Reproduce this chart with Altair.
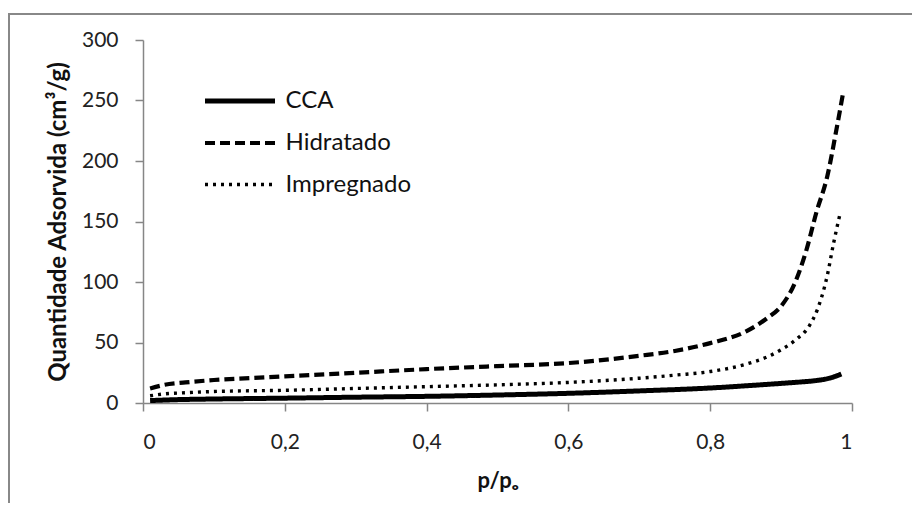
import altair as alt
import pandas as pd

# ---- data ----
series_names = ["CCA", "Hidratado", "Impregnado"]

cca_x = [0.01, 0.05, 0.1, 0.2, 0.3, 0.4, 0.5, 0.6, 0.7, 0.8, 0.85, 0.9, 0.93, 0.95, 0.97, 0.985]
cca_y = [2, 2.8, 3.3, 4, 4.8, 5.5, 6.6, 8, 10, 12.4, 14.2, 16.2, 17.5, 18.6, 20.8, 24]

hid_x = [0.01, 0.03, 0.06, 0.1, 0.15, 0.2, 0.3, 0.4, 0.5, 0.6, 0.7, 0.75, 0.8, 0.85, 0.88,
         0.9, 0.92, 0.935, 0.95, 0.965, 0.979, 0.988]
hid_y = [12, 15, 17, 19, 20.5, 22, 25, 28, 30.5, 33, 39, 43, 49.5, 59, 70,
         80, 100, 125, 158, 187, 229, 258]

imp_x = [0.01, 0.03, 0.06, 0.1, 0.2, 0.3, 0.4, 0.5, 0.6, 0.7, 0.75, 0.8, 0.85, 0.88, 0.9,
         0.92, 0.94, 0.951, 0.965, 0.974, 0.983]
imp_y = [6, 7.5, 8.5, 9.5, 10.5, 12, 13.5, 15, 17, 20.5, 23, 26, 32, 38, 44,
         52, 64, 77, 105, 132, 156]

x_ticks = [0, 0.2, 0.4, 0.6, 0.8, 1]
y_ticks = [0, 50, 100, 150, 200, 250, 300]

rows = []
for name, xs, ys in [("CCA", cca_x, cca_y), ("Hidratado", hid_x, hid_y), ("Impregnado", imp_x, imp_y)]:
    for i, (a, b) in enumerate(zip(xs, ys)):
        rows.append({"serie": name, "p": a, "q": b, "ord": i})
df = pd.DataFrame(rows)

FONT = "Lato"
GRAY = "#868686"
W, H = 709, 363

legend = alt.Legend(
    title=None, orient="none", legendX=59.5, legendY=41,
    symbolType="M-1,0H3", symbolSize=1225, symbolStrokeColor="black",
    labelFont=FONT, labelFontSize=24, labelColor="#111", labelOffset=43,
    rowPadding=10,
)

lines = alt.Chart(df).mark_line(color="black", interpolate="monotone").encode(
    x=alt.X("p:Q", scale=alt.Scale(domain=[0, 1], nice=False),
            axis=alt.Axis(values=x_ticks, format=".1~f", title="p/pₒ",
                          labelExpr="replace(datum.label, '.', ',')",
                          titleY=84, titleBaseline="alphabetic", labelPadding=20,
                          titleFontSize=22)),
    y=alt.Y("q:Q", scale=alt.Scale(domain=[0, 300], nice=False),
            axis=alt.Axis(values=y_ticks, title="Quantidade  Adsorvida (cm³/g)",
                          titleX=-78, titleBaseline="alphabetic", labelPadding=17,
                          titleFontSize=24)),
    strokeDash=alt.StrokeDash("serie:N", scale=alt.Scale(domain=series_names,
                              range=[[1, 0], [10, 5], [3, 5]]), legend=legend),
    strokeWidth=alt.StrokeWidth("serie:N", scale=alt.Scale(domain=series_names,
                                range=[5, 3.4, 3]), legend=legend),
    order="ord:Q",
    detail="serie:N",
)

frame = alt.Chart(pd.DataFrame({"a": [0]})).mark_rect(
    fill=None, stroke="#888888", strokeWidth=2
).encode(x=alt.value(-134), x2=alt.value(900), y=alt.value(-26), y2=alt.value(600))

chart = alt.layer(frame, lines).properties(
    width=W, height=H,
    autosize=alt.AutoSizeParams(type="none"),
    padding={"left": 135, "top": 32, "right": 60, "bottom": 100},
).configure(background="white").configure_view(stroke=None).configure_axis(
    grid=False, domainColor=GRAY, tickColor=GRAY, tickSize=8, domainWidth=1.5, tickWidth=1.5,
    labelFont=FONT, labelFontSize=21, labelColor="#222",
    titleFont=FONT, titleFontWeight="bold", titleColor="#111",
)

chart.save("out.html", embed_options={"renderer": "svg", "actions": False})
